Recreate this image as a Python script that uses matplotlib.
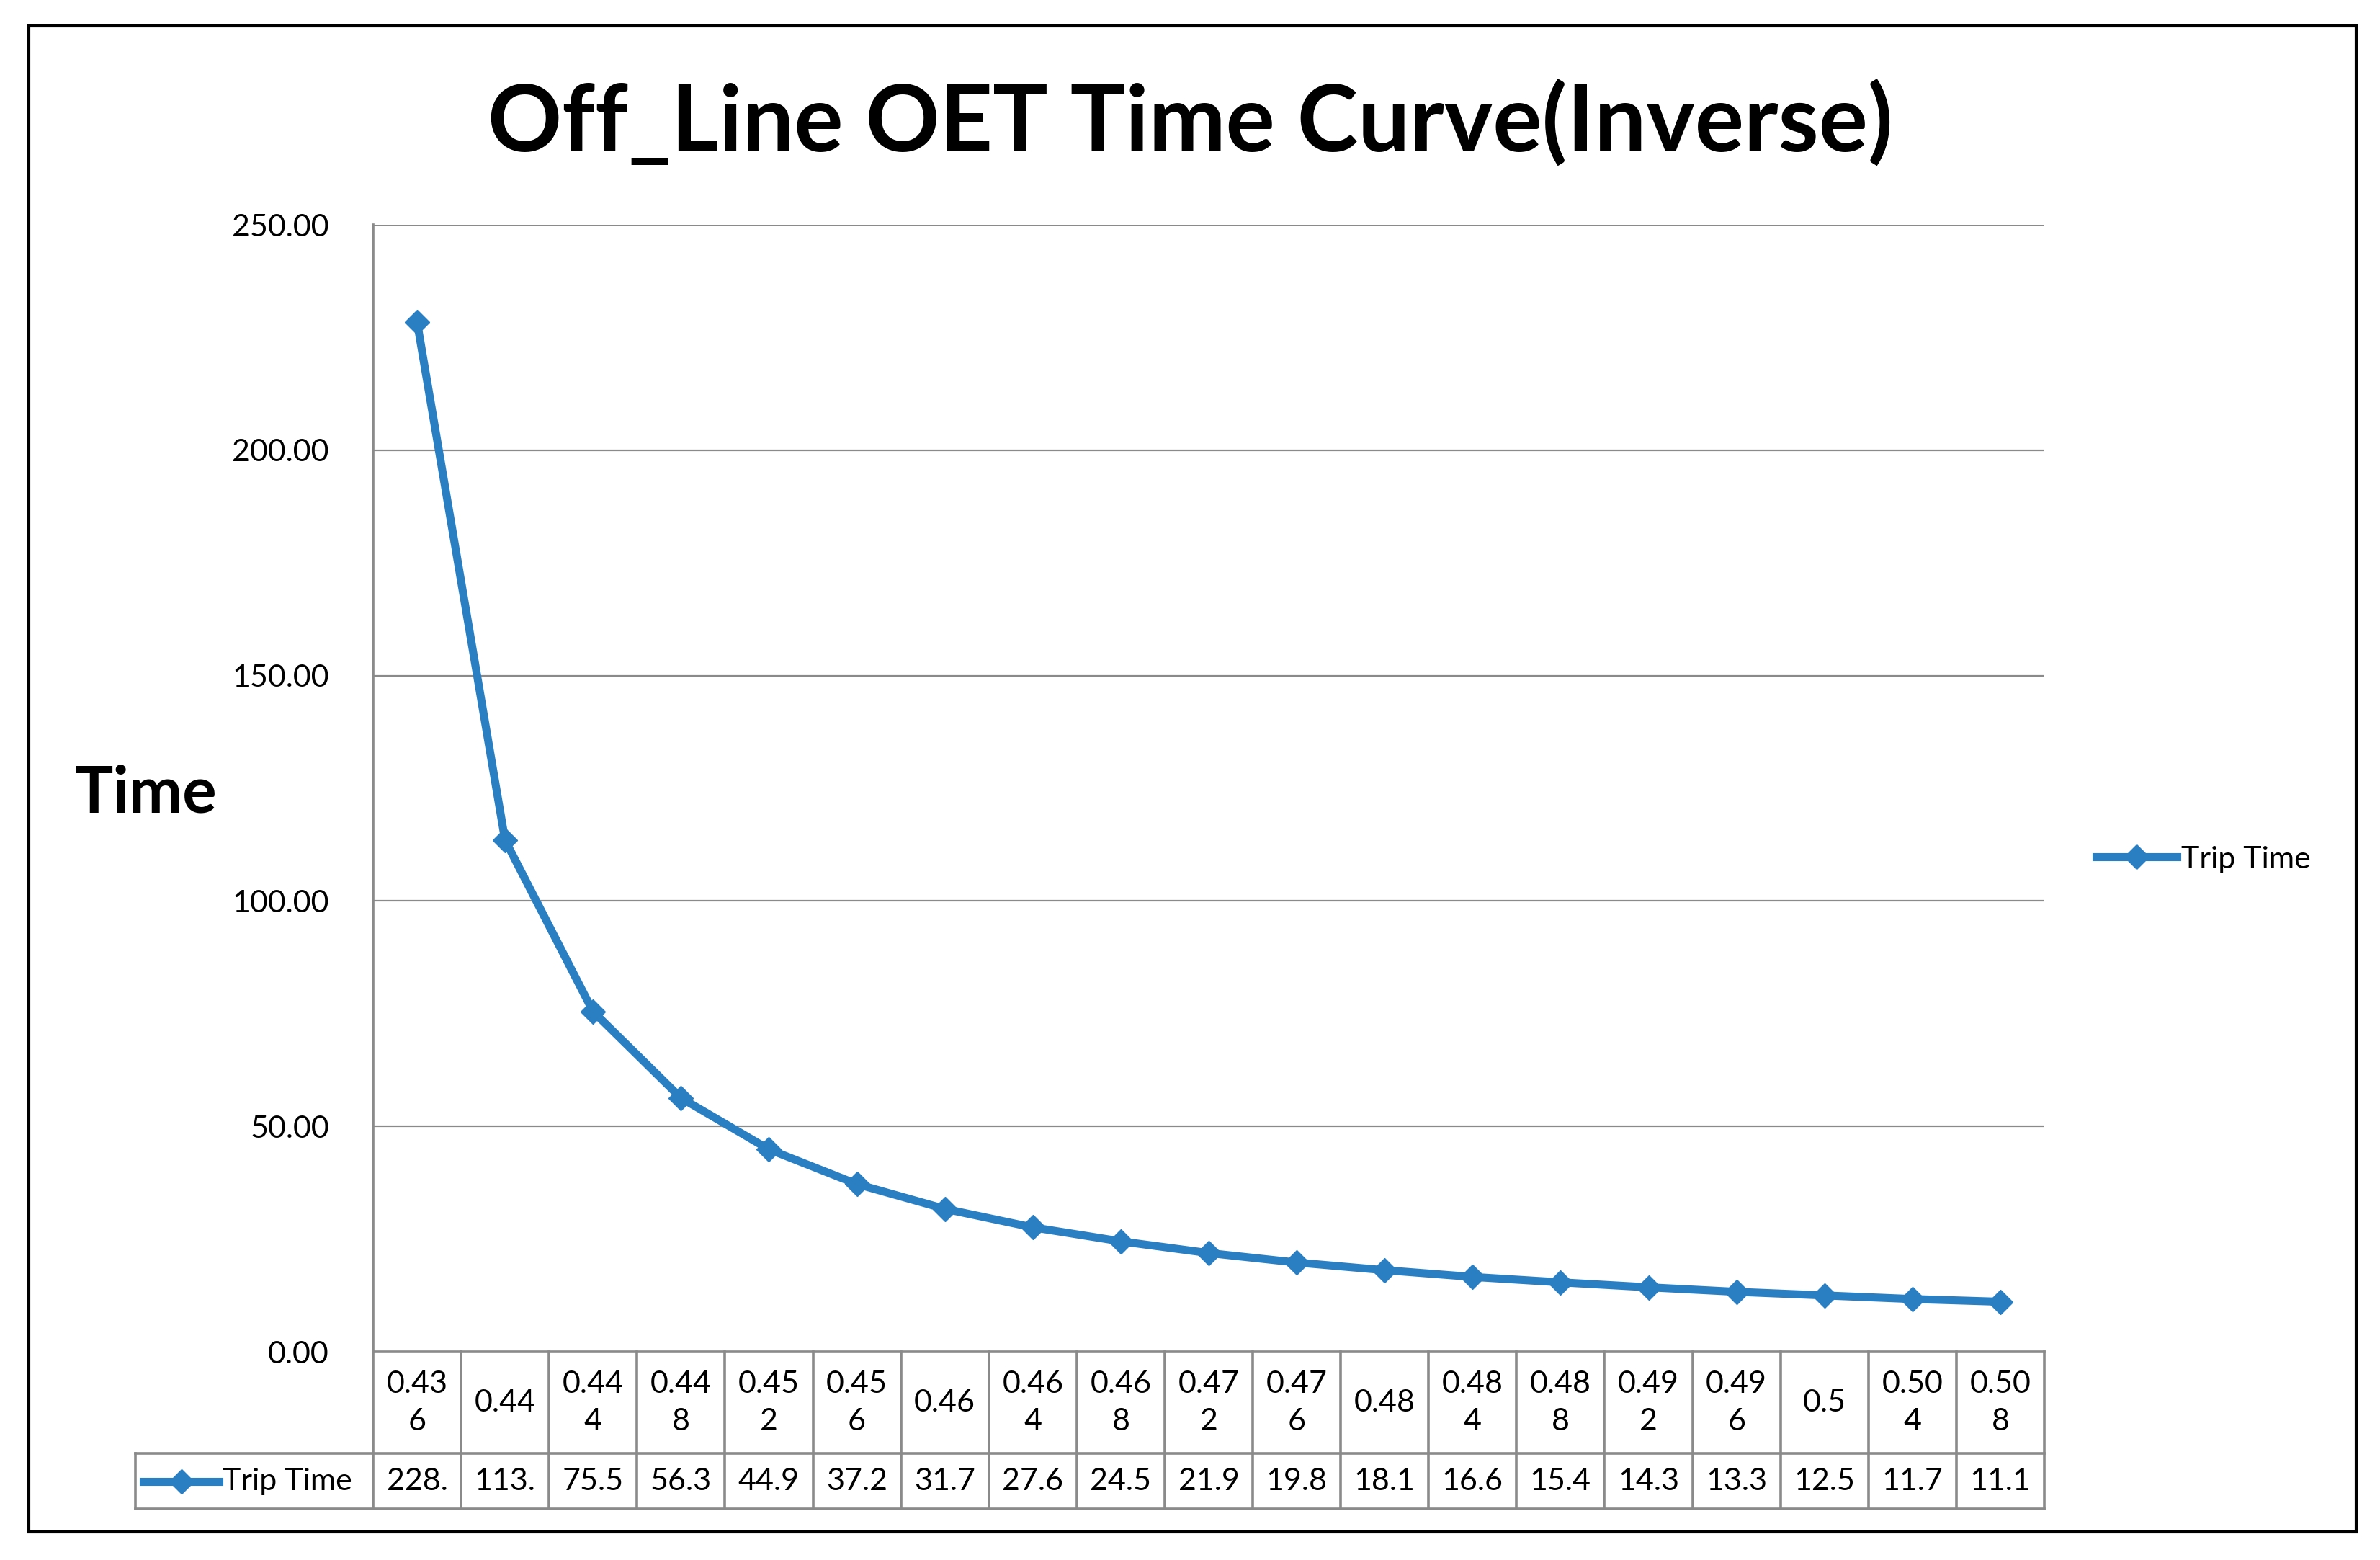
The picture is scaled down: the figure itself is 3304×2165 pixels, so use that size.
# Off_Line OET time curve (inverse), Excel-style line chart with data table
import matplotlib
matplotlib.use('Agg')
import matplotlib.pyplot as plt
from matplotlib.patches import Rectangle

plt.rcParams['font.family'] = ['Lato', 'DejaVu Sans']

# data
categories = ['0.436', '0.44', '0.444', '0.448', '0.452', '0.456', '0.46', '0.464', '0.468',
              '0.472', '0.476', '0.48', '0.484', '0.488', '0.492', '0.496', '0.5', '0.504', '0.508']
trip_time = [228.4, 113.5, 75.5, 56.3, 44.9, 37.2, 31.7, 27.6, 24.5, 21.9,
             19.8, 18.1, 16.6, 15.4, 14.3, 13.3, 12.5, 11.7, 11.1]
y_ticks = [0, 50, 100, 150, 200, 250]
series_name = 'Trip Time'
title = 'Off_Line OET Time Curve(Inverse)'

W, H = 3304, 2165
blue = '#2a7fc2'
grey = '#8a8a8a'
fs = 31

fig = plt.figure(figsize=(W / 100, H / 100), dpi=100)
ax = fig.add_axes([518 / W, 1 - 1876 / H, 2320 / W, 1564 / H])

x = list(range(len(categories)))
ax.plot(x, trip_time, color=blue, lw=8, marker='D', ms=17, mec=blue, mfc=blue, label=series_name)

ax.set_xlim(-0.5, len(categories) - 0.5)
ax.set_ylim(y_ticks[0], y_ticks[-1])
ax.set_yticks(y_ticks)
ax.set_yticklabels([f'{v:.2f}' for v in y_ticks])
ax.set_xticks([])
ax.tick_params(axis='y', length=0, pad=44, labelsize=fs)
ax.grid(axis='y', color=grey, lw=1.6)
ax.set_axisbelow(True)
for side in ['top', 'right']:
    ax.spines[side].set_visible(False)
for side in ['left', 'bottom']:
    ax.spines[side].set_color(grey)
    ax.spines[side].set_linewidth(2.6)

ax.set_ylabel('Time', rotation=0, fontsize=64, fontweight='bold', ha='center', va='center')
ax.yaxis.set_label_coords(-0.136, 0.495)

# data table under the plot (x in data units, y in axes fraction)
trans = ax.get_xaxis_transform()
y0, y1, y2 = 0.0, -0.0902, -0.1395
key_left = -3.2
xr = len(categories) - 0.5
tl = dict(color=grey, lw=2.6, transform=trans, clip_on=False, solid_capstyle='projecting')
ax.plot([key_left, xr], [y1, y1], **tl)
ax.plot([key_left, xr], [y2, y2], **tl)
ax.plot([key_left, key_left], [y1, y2], **tl)
for i in range(len(categories) + 1):
    ax.plot([i - 0.5, i - 0.5], [y0, y2], **tl)

for i, (cat, val) in enumerate(zip(categories, trip_time)):
    lab = cat if len(cat) <= 4 else cat[:4] + '\n' + cat[4:]
    ax.text(i, (y0 + y1) / 2, lab, transform=trans, ha='center', va='center',
            fontsize=fs, linespacing=1.45)
    ax.text(i, (y1 + y2) / 2, f'{val:.1f}'[:4], transform=trans, ha='center', va='center',
            fontsize=fs)

ym = (y1 + y2) / 2
ax.plot([-3.11, -2.25], [ym, ym], color=blue, lw=8, transform=trans, clip_on=False)
ax.plot([-2.68], [ym], color=blue, marker='D', ms=17, transform=trans, clip_on=False)
ax.text(-2.21, ym, series_name, transform=trans, ha='left', va='center', fontsize=fs)

ax.legend(loc='center left', bbox_to_anchor=(1.031, 0.437), frameon=False, fontsize=fs,
          handlelength=2.6, handletextpad=0.15, borderpad=0, borderaxespad=0)

fig.text(0.5, 1 - 172 / H, title, ha='center', va='center', fontsize=92, fontweight='bold')

fig.patches.append(Rectangle((40 / W, 1 - 2126 / H), 3231 / W, 2090 / H, transform=fig.transFigure,
                             fill=False, ec='black', lw=3))

fig.savefig('out.png', dpi=100, facecolor='white')
